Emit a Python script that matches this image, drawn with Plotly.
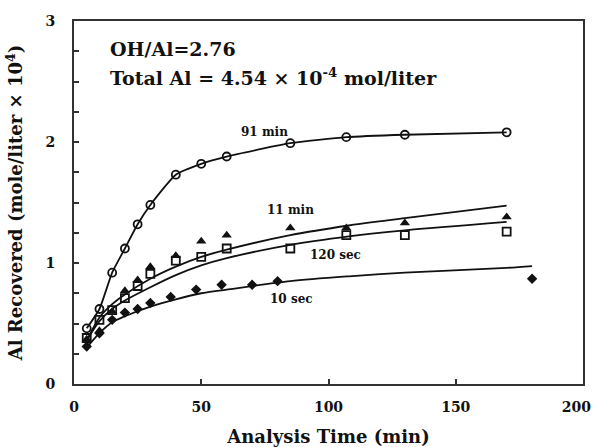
import plotly.graph_objects as go

t_91min = [5, 10, 15, 20, 25, 30, 40, 50, 60, 85, 107, 130, 170]
v_91min = [0.46, 0.62, 0.92, 1.12, 1.32, 1.48, 1.73, 1.82, 1.88, 1.99, 2.04, 2.06, 2.08]

t_11min = [5, 10, 15, 20, 25, 30, 40, 50, 60, 85, 107, 130, 170]
v_11min = [0.37, 0.44, 0.60, 0.77, 0.86, 0.97, 1.06, 1.18, 1.23, 1.29, 1.29, 1.33, 1.38]

t_120sec = [5, 10, 15, 20, 25, 30, 40, 50, 60, 85, 107, 130, 170]
v_120sec = [0.38, 0.53, 0.61, 0.71, 0.81, 0.91, 1.02, 1.05, 1.12, 1.12, 1.23, 1.23, 1.26]

t_10sec = [5, 10, 15, 20, 25, 30, 38, 48, 58, 70, 80, 180]
v_10sec = [0.31, 0.42, 0.53, 0.59, 0.62, 0.67, 0.72, 0.78, 0.82, 0.82, 0.85, 0.87]

# Fitted curves
t_fit = [5, 10, 15, 20, 30, 40, 50, 60, 85, 108, 130, 170]
fit_11min = [0.36, 0.55, 0.66, 0.74, 0.87, 0.97, 1.05, 1.11, 1.23, 1.31, 1.37, 1.475]
fit_120sec = [0.36, 0.52, 0.62, 0.69, 0.80, 0.90, 0.98, 1.04, 1.15, 1.22, 1.27, 1.34]
t_fit10 = [5, 10, 15, 20, 30, 40, 50, 60, 85, 108, 130, 170, 180]
fit_10sec = [0.30, 0.42, 0.51, 0.56, 0.64, 0.70, 0.75, 0.78, 0.85, 0.89, 0.92, 0.96, 0.975]

series_labels = ["91 min", "11 min", "120 sec", "10 sec"]
label_pos = [(75, 2.08), (85, 1.44), (102.6, 1.07), (85.3, 0.70)]

x_ticks = [0, 50, 100, 150, 200]
x_ticktext = ["0", "50", "100", "150", "200"]
y_ticks = [0, 1, 2, 3]

FONT = "DejaVu Serif"
BLACK = "#111111"

fig = go.Figure()

# fitted lines
for tx, fy in [(t_fit, fit_11min), (t_fit, fit_120sec), (t_fit10, fit_10sec)]:
    fig.add_trace(go.Scatter(x=tx, y=fy, mode="lines",
                             line=dict(color=BLACK, width=1.8, shape="spline", smoothing=0.8),
                             showlegend=False, hoverinfo="skip"))

# 91 min: line through points
fig.add_trace(go.Scatter(x=t_91min, y=v_91min, mode="lines+markers",
                         line=dict(color=BLACK, width=1.8, shape="spline", smoothing=0.5),
                         marker=dict(symbol="circle-open", size=8, color=BLACK, line=dict(width=1.8)),
                         showlegend=False))
fig.add_trace(go.Scatter(x=t_11min, y=v_11min, mode="markers",
                         marker=dict(symbol="triangle-up", size=9, color=BLACK),
                         showlegend=False))
fig.add_trace(go.Scatter(x=t_120sec, y=v_120sec, mode="markers",
                         marker=dict(symbol="square-open", size=8, color=BLACK, line=dict(width=1.8)),
                         showlegend=False))
fig.add_trace(go.Scatter(x=t_10sec, y=v_10sec, mode="markers",
                         marker=dict(symbol="diamond", size=8, color=BLACK),
                         showlegend=False))

for lab, (lx, ly) in zip(series_labels, label_pos):
    fig.add_annotation(x=lx, y=ly, text=f"<b>{lab}</b>", showarrow=False,
                       font=dict(family=FONT, size=12, color=BLACK))

fig.add_annotation(x=13.4, y=2.77, xanchor="left", text="<b>OH/Al=2.76</b>", showarrow=False,
                   font=dict(family=FONT, size=19, color=BLACK))
fig.add_annotation(x=13.4, y=2.54, xanchor="left",
                   text="<b>Total Al = 4.54 × 10<sup>-4</sup> mol/liter</b>", showarrow=False,
                   font=dict(family=FONT, size=19, color=BLACK))

fig.update_layout(
    width=594, height=447,
    margin=dict(l=74, r=11, t=21, b=63, autoexpand=False),
    paper_bgcolor="white", plot_bgcolor="white",
    font=dict(family=FONT, color=BLACK),
)
# last label padded so it stays inside the page like in the reference
x_labels = [f"<b>{t}</b>" for t in x_ticktext]
x_labels[-1] = "<b>200</b>&nbsp;&nbsp;&nbsp;"
fig.update_xaxes(range=[0, 200], tickvals=x_ticks, ticktext=x_labels,
                 showgrid=False, zeroline=False, automargin=False, ticklabeloverflow="allow",
                 showline=True, mirror=True, linecolor="#333", linewidth=2,
                 ticks="inside", ticklen=5, tickwidth=1.5, tickcolor="#333",
                 ticklabelstandoff=9,
                 tickfont=dict(family=FONT, size=14, color=BLACK),
                 title=dict(text="<b>Analysis Time (min)</b>", standoff=22,
                            font=dict(family=FONT, size=18, color=BLACK)))
fig.update_yaxes(range=[0, 3], tickvals=y_ticks, ticktext=[f"<b>{v}</b>" for v in y_ticks],
                 showgrid=False, zeroline=False, automargin=False,
                 showline=True, mirror=True, linecolor="#333", linewidth=2,
                 ticks="inside", ticklen=5, tickwidth=1.5, tickcolor="#333",
                 ticklabelstandoff=14,
                 minor=dict(dtick=0.25, ticks="inside", ticklen=5, tickwidth=1.5, tickcolor="#333", showgrid=False),
                 tickfont=dict(family=FONT, size=14, color=BLACK),
                 title=dict(text="<b>Al Recovered (mole/liter × 10<sup>4</sup>)</b>", standoff=18,
                            font=dict(family=FONT, size=18, color=BLACK)))

fig.write_html("out.html")
